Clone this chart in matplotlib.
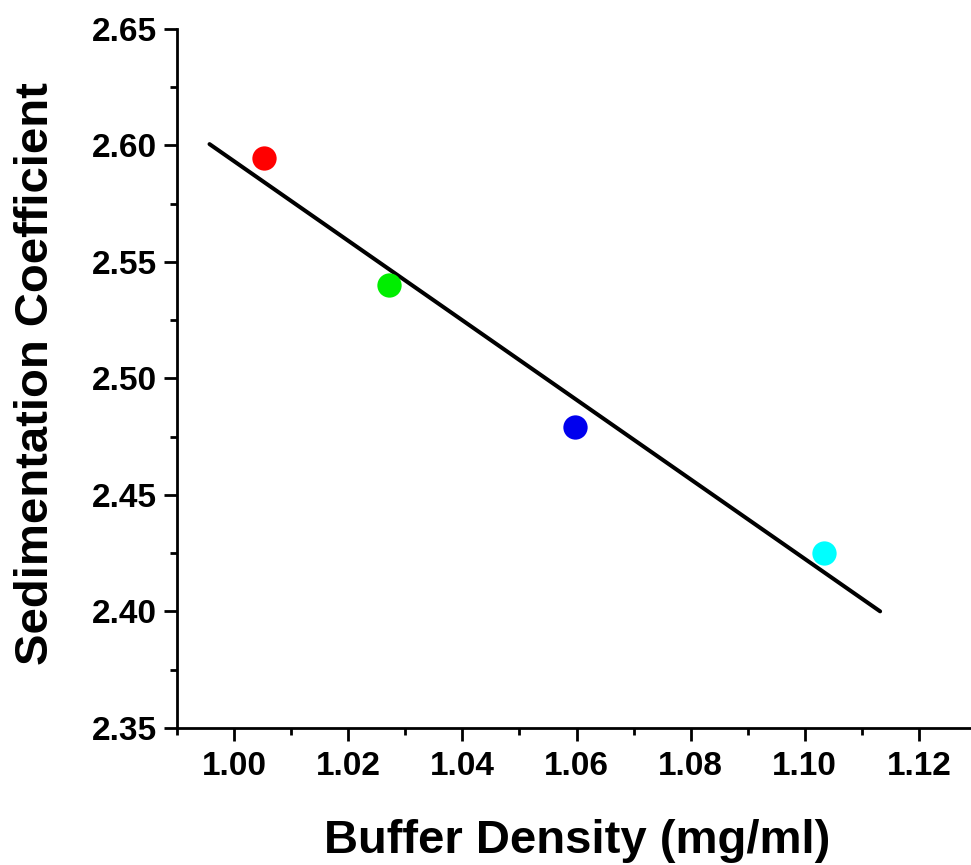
import matplotlib
matplotlib.use('Agg')
import matplotlib.pyplot as plt
import numpy as np
from matplotlib.ticker import MultipleLocator, FormatStrFormatter

# data
density = [1.0053, 1.0272, 1.0598, 1.1033]
sed_coeff = [2.5947, 2.5403, 2.4790, 2.4252]
colors = ['#ff0000', '#00ee00', '#0000ee', '#00ffff']
fit_range = [0.9957, 1.1132]

xlabel = 'Buffer Density (mg/ml)'
ylabel = 'Sedimentation Coefficient'

plt.rcParams['font.family'] = ['Liberation Sans', 'DejaVu Sans']
plt.rcParams['font.weight'] = 'bold'

fig = plt.figure(figsize=(9.71, 8.65), dpi=100)
ax = fig.add_axes([177 / 971, 1 - 728 / 865, 799 / 971, 699 / 865])

# linear fit
slope, icpt = np.polyfit(density, sed_coeff, 1)
xf = np.array(fit_range)
ax.plot(xf, slope * xf + icpt, color='black', lw=2.9, solid_capstyle='round', zorder=2)

for x, y, c in zip(density, sed_coeff, colors):
    ax.plot(x, y, 'o', color=c, ms=17.5, mec='none', zorder=3)

ax.set_xlim(0.99, 1.13)
ax.set_ylim(2.35, 2.65)
ax.xaxis.set_major_locator(MultipleLocator(0.02))
ax.xaxis.set_minor_locator(MultipleLocator(0.01))
ax.yaxis.set_major_locator(MultipleLocator(0.05))
ax.yaxis.set_minor_locator(MultipleLocator(0.025))
ax.xaxis.set_major_formatter(FormatStrFormatter('%.2f'))
ax.yaxis.set_major_formatter(FormatStrFormatter('%.2f'))

for s in ['top', 'right']:
    ax.spines[s].set_visible(False)
for s in ['left', 'bottom']:
    ax.spines[s].set_linewidth(2)

ax.tick_params(which='major', direction='out', length=9.5, width=2, labelsize=24, pad=7)
ax.tick_params(which='minor', direction='out', length=5, width=2)
ax.tick_params(axis='y', pad=5)

fig.text(577 / 971, 1 - 853 / 865, xlabel, ha='center', va='baseline',
         fontsize=34, fontweight='bold')
fig.text(36 / 971, 1 - 374 / 865, ylabel, ha='center', va='center',
         rotation=90, fontsize=34, fontweight='bold')

fig.savefig('out.png', dpi=100)
